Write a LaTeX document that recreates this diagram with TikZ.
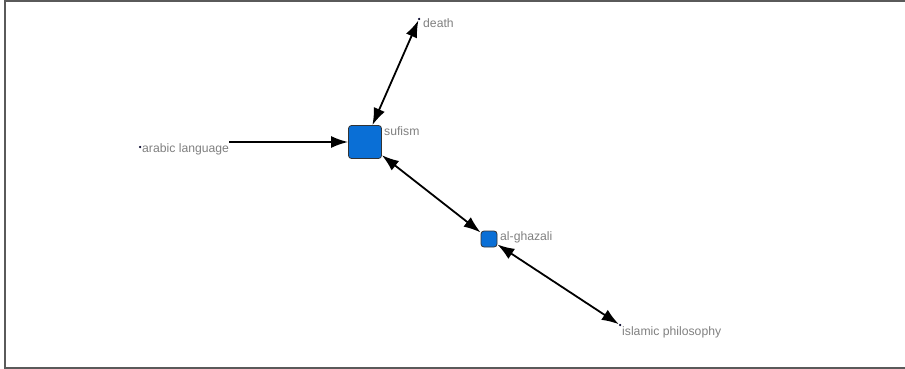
\documentclass[tikz,border=0pt]{standalone}
\usepackage{fontspec}
\setmainfont{Liberation Sans}
\usetikzlibrary{arrows.meta}
\definecolor{nodeblue}{HTML}{0A6FD6}
\definecolor{labelgray}{HTML}{808080}
\definecolor{framegray}{HTML}{5A5A5A}
\tikzset{
  vert/.style={draw=black!80, fill=nodeblue, rounded corners=3pt, line width=0.8pt, inner sep=0pt, minimum size=#1},
  pt/.style={circle, fill=black!85!blue, inner sep=0pt, minimum size=2.5pt},
  lbl/.style={text=labelgray, font=\fontsize{12.2}{14}\selectfont, inner sep=0pt, anchor=west},
  edge/.style={line width=1.8pt, black},
  tip/.style={-{Latex[length=17pt,width=12pt]}},
  both/.style={{Latex[length=17pt,width=12pt]}-{Latex[length=17pt,width=12pt]}},
}
\begin{document}
\begin{tikzpicture}[x=1pt,y=-1pt]
\useasboundingbox (0,0) rectangle (905,369);
\draw[framegray, line width=1.5pt] (905,1) -- (5,1) -- (5,368) -- (905,368);
% vertices
\node[vert=33pt] (sufism) at (365,142) {};
\node[vert=16pt] (ghazali) at (489,239) {};
\node[pt] (death) at (419,19) {};
\node[pt] (arabic) at (140,147) {};
\node[pt] (islamic) at (620,325) {};
% labels
\node[lbl] (sufismL) at (384,131) {sufism};
\node[lbl] (ghazaliL) at (500,237) {al-ghazali};
\node[lbl] (deathL) at (423,23) {death};
\node[lbl] (arabicL) at (142,149) {arabic language};
\node[lbl] (islamicL) at (622,332) {islamic philosophy};
% edges
\draw[edge, tip] (arabicL.east |- sufism.west) -- (sufism.west);
\draw[edge, both] (death) -- (sufism);
\draw[edge, both] (sufism) -- (ghazali);
\draw[edge, both] (ghazali) -- (islamic);
\end{tikzpicture}
\end{document}
